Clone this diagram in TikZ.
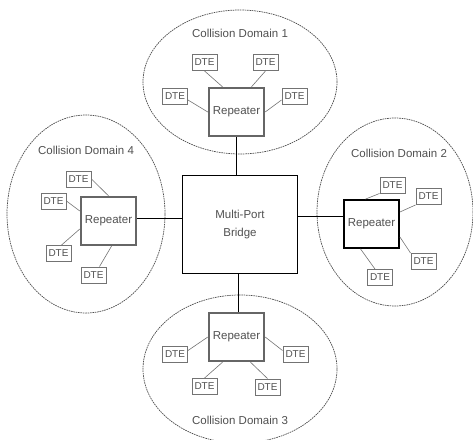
\documentclass[tikz,border=0pt]{standalone}
\usepackage{fontspec}
\setmainfont{Liberation Sans}
\usetikzlibrary{shapes.geometric}
\definecolor{txtgray}{HTML}{505050}
\tikzset{
  cdomain/.style={ellipse, draw=black!70, line width=0.7pt, dash pattern=on 1.6pt off 0.8pt, inner sep=0pt},
  dtebox/.style={draw=black!55, line width=0.9pt, minimum width=25pt, minimum height=16pt, inner sep=0pt,
    text=txtgray, font=\fontsize{10}{10}\selectfont},
  repbox/.style={draw=black!60, line width=2.4pt, minimum width=55pt, minimum height=48pt, inner sep=0pt,
    text=txtgray, font=\fontsize{11.5}{12}\selectfont},
  bridgebox/.style={draw=black, line width=1.3pt, minimum width=115pt, minimum height=98pt, inner sep=0pt,
    text=txtgray, align=center, font=\fontsize{11.5}{18}\selectfont},
  lbl/.style={text=txtgray, font=\fontsize{11.5}{12}\selectfont, inner sep=0pt},
  link/.style={draw=black!55, line width=0.6pt},
  trunk/.style={draw=black, line width=0.8pt}
}
\begin{document}
\begin{tikzpicture}[x=1pt,y=-1pt]
\useasboundingbox (0,0) rectangle (473,439);
% collision domains
\node[cdomain, minimum width=194pt, minimum height=144pt] (e1) at (240,82) {};
\node[cdomain, minimum width=156pt, minimum height=188pt] (e2) at (395,212) {};
\node[cdomain, minimum width=194pt, minimum height=148pt] (e3) at (240,369) {};
\node[cdomain, minimum width=158pt, minimum height=198pt] (e4) at (86,214) {};
% labels
\node[lbl] (l1) at (240,33) {Collision Domain 1};
\node[lbl] (l2) at (399,153) {Collision Domain 2};
\node[lbl] (l3) at (240,420) {Collision Domain 3};
\node[lbl] (l4) at (86,150) {Collision Domain 4};
% bridge
\node[bridgebox] (br) at (240,224.5) {Multi-Port\\Bridge};
% repeaters
\node[repbox] (r1) at (236.5,112) {Repeater};
\node[repbox, draw=black, line width=1.8pt] (r2) at (371.5,224) {Repeater};
\node[repbox] (r3) at (236.5,337) {Repeater};
\node[repbox] (r4) at (108.5,221) {Repeater};
% DTEs domain 1
\node[dtebox] (d11) at (204.5,62.5) {DTE};
\node[dtebox] (d12) at (265.5,62.5) {DTE};
\node[dtebox] (d13) at (175,96.5) {DTE};
\node[dtebox] (d14) at (294.5,96.5) {DTE};
% DTEs domain 2
\node[dtebox] (d21) at (392.5,185) {DTE};
\node[dtebox] (d22) at (428.5,196.5) {DTE};
\node[dtebox] (d23) at (423.5,261.5) {DTE};
\node[dtebox] (d24) at (380,277.5) {DTE};
% DTEs domain 3
\node[dtebox] (d31) at (175,354) {DTE};
\node[dtebox] (d32) at (295.5,354) {DTE};
\node[dtebox] (d33) at (204.5,386.5) {DTE};
\node[dtebox] (d34) at (267.5,387) {DTE};
% DTEs domain 4
\node[dtebox] (d41) at (78.5,179) {DTE};
\node[dtebox] (d42) at (53.5,201) {DTE};
\node[dtebox] (d43) at (58.5,253.5) {DTE};
\node[dtebox] (d44) at (93.5,275) {DTE};
% DTE links
\draw[link] (d11.south) -- ([xshift=-14pt]r1.north);
\draw[link] (d12.south) -- ([xshift=15pt]r1.north);
\draw[link] (d13.-15) -- (r1.west);
\draw[link] (d14.195) -- (r1.east);
\draw[link] (d21.south west) -- ([xshift=-6pt]r2.north);
\draw[link] (d22.south west) -- ([yshift=12pt]r2.east);
\draw[link] (d23.north west) -- ([yshift=-13pt]r2.east);
\draw[link] ([xshift=-5pt]d24.north) -- ([xshift=-11pt]r2.south);
\draw[link] (d31.15) -- (r3.west);
\draw[link] (d32.165) -- (r3.east);
\draw[link] (d33.north) -- ([xshift=-14pt]r3.south);
\draw[link] (d34.north) -- ([xshift=14pt]r3.south);
\draw[link] (d41.east) -- (r4.north);
\draw[link] (d42.east) -- ([yshift=10pt]r4.west);
\draw[link] ([xshift=3pt]d43.north) -- ([yshift=-8pt]r4.west);
\draw[link] ([xshift=6pt]d44.north) -- ([xshift=3pt]r4.south);
% trunks
\draw[trunk] (r1.south) -- (r1.south |- br.north);
\draw[trunk] ([xshift=2pt]r3.north) -- ([xshift=2pt]r3.north |- br.south);
\draw[trunk] ([yshift=3pt]r4.east) -- ([yshift=3pt]r4.east -| br.west);
\draw[trunk] ([yshift=8pt]r2.west) -- ([yshift=8pt]r2.west -| br.east);
\end{tikzpicture}
\end{document}
